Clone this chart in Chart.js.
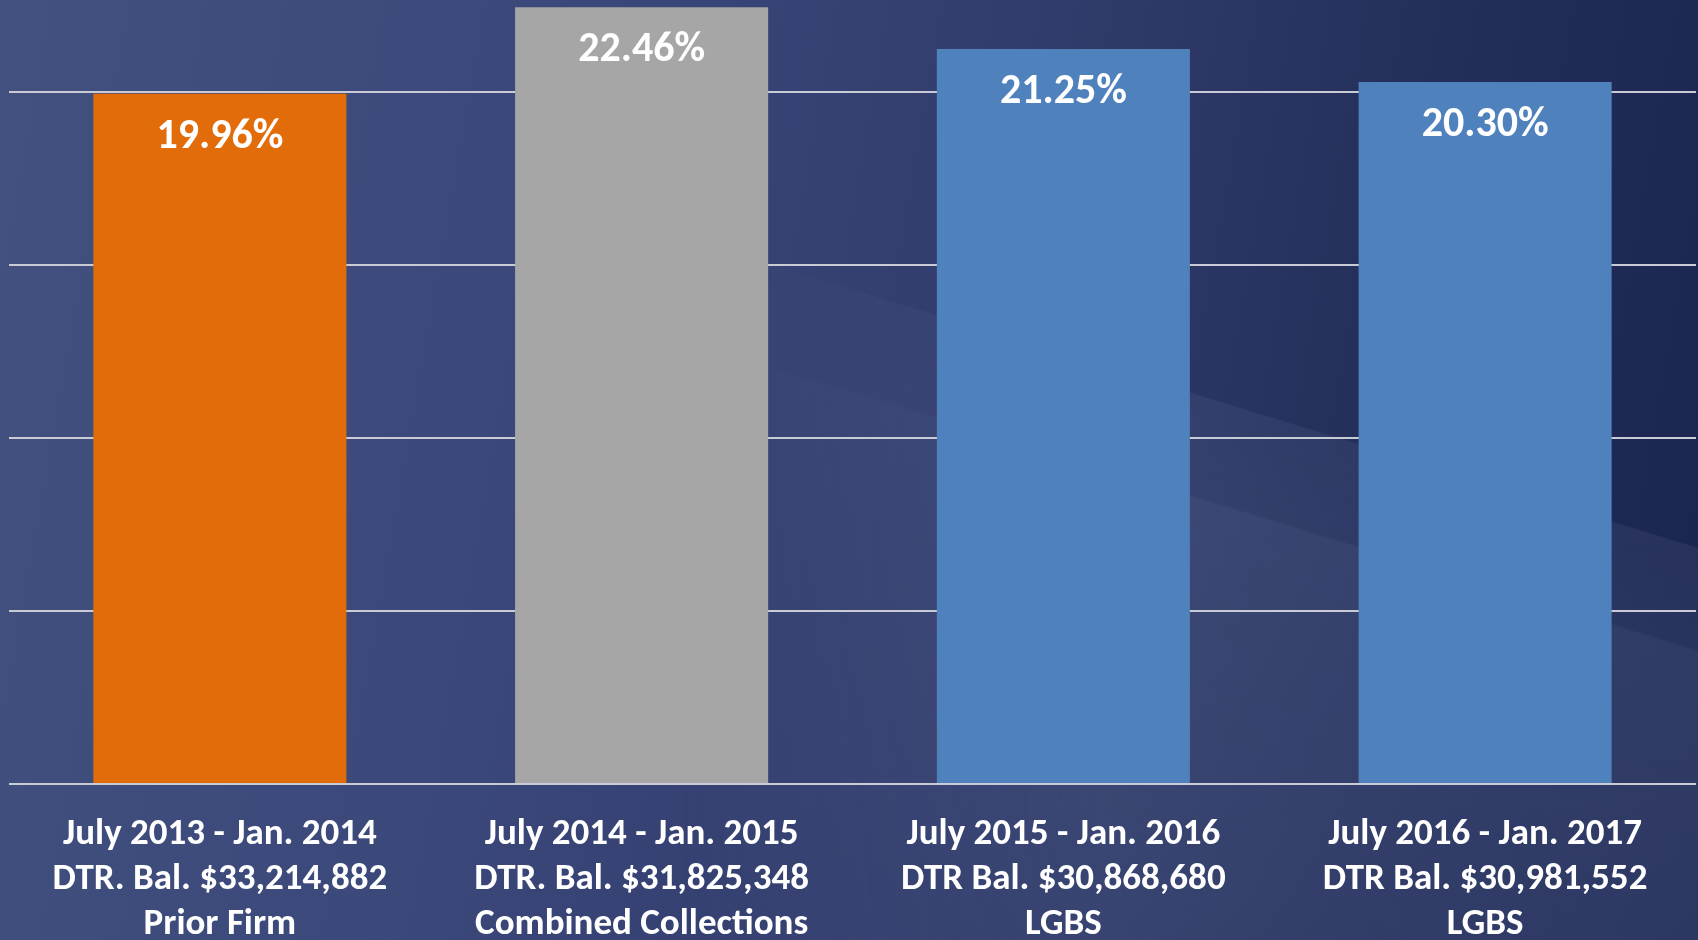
<!DOCTYPE html>
<html>
<head>
<meta charset="utf-8">
<script src="https://cdn.jsdelivr.net/npm/chart.js@4/dist/chart.umd.min.js"></script>
<style>
  html, body {
    margin: 0;
    padding: 0;
    overflow: hidden;
  }
  .slide {
    position: relative;
    width: 1698px;
    height: 940px;
    background: linear-gradient(100deg, #42517f 0%, #3b487a 30%, #323d6d 55%, #222d59 80%, #1a2450 100%);
  }
  /* lighter swoosh across the lower right */
  .swoosh {
    position: absolute;
    left: 0;
    top: 0;
    width: 1698px;
    height: 940px;
    background: linear-gradient(197deg,
      rgba(140,155,195,0) 0%,
      rgba(140,155,195,0) 37.5%,
      rgba(140,155,195,0.10) 37.6%,
      rgba(140,155,195,0.12) 44.5%,
      rgba(140,155,195,0.19) 44.7%,
      rgba(140,155,195,0.16) 70%,
      rgba(140,155,195,0.10) 100%);
    -webkit-mask-image: linear-gradient(to right, transparent 40%, black 65%);
    mask-image: linear-gradient(to right, transparent 40%, black 65%);
  }
  #chart {
    position: absolute;
    left: 0;
    top: 0;
  }
</style>
</head>
<body>
<div class="slide">
  <div class="swoosh"></div>
  <canvas id="chart" width="1698" height="940"></canvas>
</div>
<script>
  const periods = [
    ['July 2013 - Jan. 2014', 'DTR. Bal. $33,214,882', 'Prior Firm'],
    ['July 2014 - Jan. 2015', 'DTR. Bal. $31,825,348', 'Combined Collections'],
    ['July 2015 - Jan. 2016', 'DTR Bal. $30,868,680', 'LGBS'],
    ['July 2016 - Jan. 2017', 'DTR Bal. $30,981,552', 'LGBS']
  ];
  const rates = [19.96, 22.46, 21.25, 20.30];
  const barColors = ['#e36c0a', '#a6a6a6', '#4f81bd', '#4f81bd'];

  const FONT = 'Carlito, Lato, sans-serif';

  // values printed inside the top of each bar
  const valueLabels = {
    id: 'valueLabels',
    afterDatasetsDraw(chart) {
      const ctx = chart.ctx;
      const meta = chart.getDatasetMeta(0);
      ctx.save();
      ctx.fillStyle = '#ffffff';
      ctx.font = 'bold 42px ' + FONT;
      ctx.textAlign = 'center';
      ctx.textBaseline = 'alphabetic';
      meta.data.forEach((bar, i) => {
        ctx.fillText(rates[i].toFixed(2) + '%', bar.x, bar.y + 54);
      });
      ctx.restore();
    }
  };

  new Chart(document.getElementById('chart').getContext('2d'), {
    type: 'bar',
    data: {
      labels: periods,
      datasets: [{
        data: rates,
        backgroundColor: barColors,
        categoryPercentage: 1,
        barPercentage: 0.6
      }]
    },
    options: {
      responsive: false,
      animation: false,
      layout: {
        padding: {left: 9, right: 2, top: 0, bottom: 0}
      },
      scales: {
        x: {
          grid: {display: false},
          border: {display: false},
          ticks: {
            color: '#ffffff',
            font: {family: FONT, size: 37, weight: 'bold', lineHeight: 1.22},
            padding: 20,
            maxRotation: 0,
            autoSkip: false
          },
          afterFit(scale) {
            scale.height = 156;
          }
        },
        y: {
          min: 0,
          max: 22.67,
          border: {display: false},
          grid: {
            color: '#c9cbd6',
            lineWidth: 2,
            drawTicks: false
          },
          ticks: {display: false, stepSize: 5},
          afterFit(scale) {
            scale.width = 0;
          },
          afterBuildTicks(scale) {
            scale.ticks = scale.ticks.filter(t => t.value % 5 === 0);
          }
        }
      },
      plugins: {
        legend: {display: false},
        tooltip: {enabled: false}
      }
    },
    plugins: [valueLabels]
  });
</script>
</body>
</html>
